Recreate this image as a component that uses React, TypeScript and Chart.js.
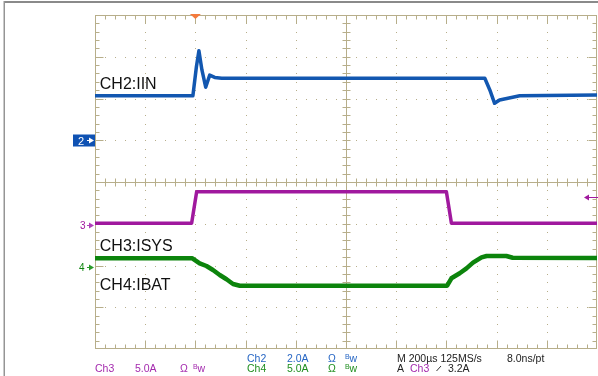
import { useEffect, useRef } from "react";
import { Chart, registerables } from "chart.js";

Chart.register(...registerables);

// ---- Scope settings ----
const timeMin = -400; // µs (trigger at 0)
const timeMax = 1600;
const usPerDiv = 200;
const divMin = -4;
const divMax = 4;

const channelNames = ["CH2:IIN", "CH3:ISYS", "CH4:IBAT"];
const ampsPerDiv = [2, 5, 5];
const offsetDiv = [1, -1, -2];
const triggerLevelA = 3.2;

// ---- Trace data (time in µs, current in A) ----
const ch2Time = [-400, -10, 4, 14, 26, 41, 57, 77, 105, 1153, 1173, 1192, 1212, 1264, 1292, 1600];
const ch2Amps = [2.13, 2.13, 3.52, 4.29, 3.37, 2.54, 3.12, 3.01, 2.97, 2.97, 2.41, 1.77, 1.93, 2.06, 2.13, 2.17];

const ch3Time = [-400, -15, 5, 1000, 1020, 1600];
const ch3Amps = [0.05, 0.05, 3.84, 3.84, 0.05, 0.05];

const ch4Time = [-400, -12, 17, 44, 70, 97, 124, 150, 177, 1003, 1020, 1053, 1080, 1106, 1140, 1160, 1239, 1264, 1600];
const ch4Amps = [0.86, 0.86, 0.26, -0.06, -0.54, -1.14, -1.65, -2.22, -2.42, -2.42, -1.53, -0.93, -0.34, 0.34, 0.98, 1.14, 1.14, 0.93, 0.9];

// label anchor (time µs, baseline in divisions)
const labelTime = [-381, -381, -381];
const labelDiv = [2.23, -1.65, -2.59];

const traceColors = ["#1257b0", "#a0199e", "#0c840c"];
const textColors = ["#2766c4", "#a42aae", "#1f8e1f"];
const GRID = "#b7ae8a";
const FONT = "'Liberation Sans', Arial, sans-serif";

function toDiv(amps: number[], ch: number) {
  return amps.map((a) => offsetDiv[ch] + a / ampsPerDiv[ch]);
}

const scopePlugin = {
  id: "scope",
  beforeDatasetsDraw(chart: any) {
    const { ctx, chartArea: a, scales } = chart;
    const x = scales.x;
    const y = scales.y;
    const nX = (timeMax - timeMin) / usPerDiv;
    const nY = divMax - divMin;
    ctx.save();
    ctx.fillStyle = GRID;
    // dotted grid
    for (let d = 1; d < nX; d++) {
      if (d * 2 === nX) continue;
      const px = Math.round(x.getPixelForValue(timeMin + d * usPerDiv));
      for (let m = 1; m < nY * 5; m++) {
        const py = Math.round(y.getPixelForValue(divMin + m * 0.2));
        ctx.fillRect(px, py, 1, 1);
      }
    }
    for (let d = 1; d < nY; d++) {
      if (d * 2 === nY) continue;
      const py = Math.round(y.getPixelForValue(divMin + d));
      for (let m = 1; m < nX * 5; m++) {
        const px = Math.round(x.getPixelForValue(timeMin + (m * usPerDiv) / 5));
        ctx.fillRect(px, py, 1, 1);
      }
    }
    ctx.strokeStyle = GRID;
    ctx.lineWidth = 1;
    // frame
    const L = Math.round(a.left) + 0.5;
    const R = Math.round(a.right) - 0.5;
    const T = Math.round(a.top) + 0.5;
    const B = Math.round(a.bottom) - 0.5;
    ctx.strokeRect(L, T, R - L, B - T);
    const cx = Math.round(x.getPixelForValue((timeMin + timeMax) / 2)) + 0.5;
    const cy = Math.round(y.getPixelForValue((divMin + divMax) / 2)) + 0.5;
    ctx.beginPath();
    ctx.moveTo(cx, T);
    ctx.lineTo(cx, B);
    ctx.moveTo(L, cy);
    ctx.lineTo(R, cy);
    // x ticks
    for (let m = 1; m < nX * 5; m++) {
      const px = Math.round(x.getPixelForValue(timeMin + (m * usPerDiv) / 5)) + 0.5;
      const len = m % 5 === 0 ? 8 : 4;
      ctx.moveTo(px, T);
      ctx.lineTo(px, T + len);
      ctx.moveTo(px, B);
      ctx.lineTo(px, B - len);
      ctx.moveTo(px, cy - 4);
      ctx.lineTo(px, cy + 4);
    }
    // y ticks
    for (let m = 1; m < nY * 5; m++) {
      const py = Math.round(y.getPixelForValue(divMin + m * 0.2)) + 0.5;
      const len = m % 5 === 0 ? 8 : 4;
      ctx.moveTo(L, py);
      ctx.lineTo(L + len, py);
      ctx.moveTo(R, py);
      ctx.lineTo(R - len, py);
      ctx.moveTo(cx - 4, py);
      ctx.lineTo(cx + 4, py);
    }
    ctx.stroke();
    ctx.restore();
  },
  afterDatasetsDraw(chart: any) {
    const { ctx, chartArea: a, scales } = chart;
    const x = scales.x;
    const y = scales.y;
    ctx.save();
    // trace labels
    ctx.fillStyle = "#111";
    ctx.font = `16px ${FONT}`;
    ctx.textBaseline = "alphabetic";
    channelNames.forEach((n, i) => {
      ctx.fillText(n, x.getPixelForValue(labelTime[i]), y.getPixelForValue(labelDiv[i]));
    });
    // channel ground markers
    const L = a.left;
    const y2 = Math.round(y.getPixelForValue(offsetDiv[0])) + 0.5;
    ctx.fillStyle = "#0f52b3";
    ctx.fillRect(L - 22, y2 - 6, 22, 12);
    ctx.fillStyle = "#fff";
    ctx.font = `11px ${FONT}`;
    ctx.fillText("2", L - 17, y2 + 4);
    const arrow = (x0: number, x1: number, yy: number, color: string, left = false) => {
      ctx.strokeStyle = color;
      ctx.fillStyle = color;
      ctx.lineWidth = 1;
      ctx.beginPath();
      ctx.moveTo(x0, yy);
      ctx.lineTo(x1, yy);
      ctx.stroke();
      ctx.beginPath();
      if (left) {
        ctx.moveTo(x0 - 1, yy);
        ctx.lineTo(x0 + 4, yy - 3);
        ctx.lineTo(x0 + 4, yy + 3);
      } else {
        ctx.moveTo(x1 + 1, yy);
        ctx.lineTo(x1 - 4, yy - 3);
        ctx.lineTo(x1 - 4, yy + 3);
      }
      ctx.closePath();
      ctx.fill();
    };
    arrow(L - 8, L - 2, y2, "#fff");
    const y3 = Math.round(y.getPixelForValue(offsetDiv[1])) + 1.5;
    ctx.fillStyle = traceColors[1];
    ctx.font = `10px ${FONT}`;
    ctx.fillText("3", L - 15, y3 + 3.5);
    arrow(L - 8, L - 2, y3, "#b040b8");
    const y4 = Math.round(y.getPixelForValue(offsetDiv[2])) + 1.5;
    ctx.fillStyle = traceColors[2];
    ctx.fillText("4", L - 16, y4 + 3.5);
    arrow(L - 8, L - 2, y4, "#2a9a2a");
    // trigger level (right edge)
    const yt = Math.round(y.getPixelForValue(offsetDiv[1] + triggerLevelA / ampsPerDiv[1])) + 0.5;
    arrow(a.right - 12, a.right + 2, yt, "#a0199e", true);
    // trigger position
    const xt = x.getPixelForValue(0);
    ctx.fillStyle = "#f47a3c";
    ctx.beginPath();
    ctx.moveTo(xt - 5.5, a.top - 1);
    ctx.lineTo(xt + 5.5, a.top - 1);
    ctx.lineTo(xt, a.top + 4);
    ctx.closePath();
    ctx.fill();
    // info text
    const f = `10.5px ${FONT}`;
    const put = (t: string, px: number, py: number, c: string) => {
      ctx.font = f;
      ctx.fillStyle = c;
      ctx.fillText(t, px, py);
    };
    const bw = (px: number, py: number, c: string) => {
      ctx.fillStyle = c;
      ctx.font = `7px ${FONT}`;
      ctx.fillText("B", px, py - 2.5);
      ctx.font = f;
      ctx.fillText("w", px + 4.5, py);
    };
    const r1 = 361.5;
    const r2 = 371.5;
    put("Ch3", 95, r2, textColors[1]);
    put("5.0A", 135, r2, textColors[1]);
    put("Ω", 180, r2, textColors[1]);
    bw(193, r2, textColors[1]);
    put("Ch2", 247, r1, textColors[0]);
    put("2.0A", 287, r1, textColors[0]);
    put("Ω", 328, r1, textColors[0]);
    bw(345, r1, textColors[0]);
    put("Ch4", 247, r2, textColors[2]);
    put("5.0A", 287, r2, textColors[2]);
    put("Ω", 328, r2, textColors[2]);
    bw(345, r2, textColors[2]);
    put("M 200µs 125MS/s", 397, r1, "#222");
    put("8.0ns/pt", 507, r1, "#222");
    put("A", 397, r2, "#222");
    put("Ch3", 410, r2, textColors[1]);
    ctx.strokeStyle = "#333";
    ctx.lineWidth = 1;
    ctx.beginPath();
    ctx.moveTo(436.5, 371);
    ctx.lineTo(441, 366);
    ctx.stroke();
    put("3.2A", 448, r2, "#222");
    // outer border
    ctx.fillStyle = "#8a8a8a";
    ctx.fillRect(4, 1, chart.width - 4, 2);
    ctx.fillStyle = "#959595";
    ctx.fillRect(3.5, 1, 1.5, chart.height - 1);
    ctx.restore();
  },
};

export default function App() {
  const ref = useRef<HTMLCanvasElement>(null);
  useEffect(() => {
    document.body.style.margin = "0";
    const canvas = ref.current;
    if (!canvas) return;
    const mk = (t: number[], v: number[], ch: number) => {
      const d = toDiv(v, ch);
      return t.map((tt, i) => ({ x: tt, y: d[i] }));
    };
    const chart = new Chart(canvas, {
      type: "line",
      data: {
        datasets: [
          { label: channelNames[0], data: mk(ch2Time, ch2Amps, 0), borderColor: traceColors[0], borderWidth: 3.5 },
          { label: channelNames[1], data: mk(ch3Time, ch3Amps, 1), borderColor: traceColors[1], borderWidth: 3.5 },
          { label: channelNames[2], data: mk(ch4Time, ch4Amps, 2), borderColor: traceColors[2], borderWidth: 4.5 },
        ],
      },
      options: {
        responsive: false,
        animation: false,
        devicePixelRatio: 1,
        layout: { padding: { left: 95, top: 15, right: 1, bottom: 27 } },
        elements: { point: { radius: 0 }, line: { tension: 0, borderJoinStyle: "round" } },
        scales: {
          x: { type: "linear", min: timeMin, max: timeMax, display: false },
          y: { type: "linear", min: divMin, max: divMax, display: false },
        },
        plugins: { legend: { display: false }, tooltip: { enabled: false } },
      },
      plugins: [scopePlugin],
    });
    return () => chart.destroy();
  }, []);
  return (
    <div style={{ width: 598, height: 376, background: "#fff" }}>
      <canvas ref={ref} width={598} height={376} style={{ display: "block", width: 598, height: 376 }} />
    </div>
  );
}
